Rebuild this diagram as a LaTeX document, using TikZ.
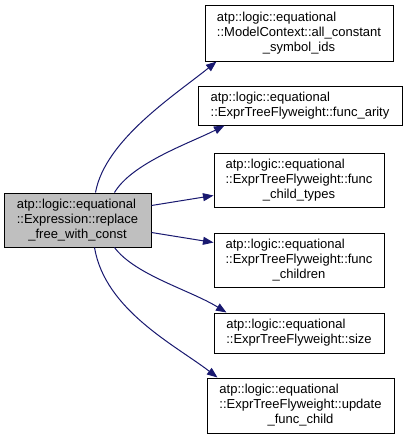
\documentclass[tikz,border=0pt]{standalone}
\usepackage{fontspec}
\setmainfont{Liberation Sans}
\usetikzlibrary{arrows.meta}
\definecolor{edgeblue}{HTML}{191970}
\definecolor{maingray}{HTML}{BFBFBF}
\newcommand\dxLabelThree[3]{\begin{tabular}{@{}l@{}}#1\\#2\\\multicolumn{1}{@{}c@{}}{#3}\end{tabular}}
\newcommand\dxLabelTwo[2]{\begin{tabular}{@{}l@{}}#1\\#2\end{tabular}}
\begin{document}
\begin{tikzpicture}[x=1pt,y=-1pt,
  box/.style={draw=black, line width=1pt, fill=white, inner sep=0pt, font=\fontsize{13}{15}\selectfont},
  edge/.style={draw=edgeblue, line width=1pt, -{Triangle[length=10.5pt,width=8pt]}}]
\useasboundingbox (0,0) rectangle (405,440);
\fill[white] (0,0) rectangle (405,440);

\node[box, fill=maingray, minimum width=147pt, minimum height=54pt] (main) at (77.5,220)
  {\dxLabelThree{atp::logic::equational}{::Expression::replace}{\_free\_with\_const}};

\node[box, minimum width=188pt, minimum height=56pt] (n1) at (299,33)
  {\dxLabelThree{atp::logic::equational}{::ModelContext::all\_constant}{\_symbol\_ids}};
\node[box, minimum width=204pt, minimum height=39pt] (n2) at (300,105.5)
  {\dxLabelTwo{atp::logic::equational}{::ExprTreeFlyweight::func\_arity}};
\node[box, minimum width=170pt, minimum height=54pt] (n3) at (299,180)
  {\dxLabelThree{atp::logic::equational}{::ExprTreeFlyweight::func}{\_child\_types}};
\node[box, minimum width=170pt, minimum height=54pt] (n4) at (299,260)
  {\dxLabelThree{atp::logic::equational}{::ExprTreeFlyweight::func}{\_children}};
\node[box, minimum width=170pt, minimum height=40pt] (n5) at (299,333)
  {\dxLabelTwo{atp::logic::equational}{::ExprTreeFlyweight::size}};
\node[box, minimum width=187pt, minimum height=55pt] (n6) at (300.5,405.5)
  {\dxLabelThree{atp::logic::equational}{::ExprTreeFlyweight::update}{\_func\_child}};

\draw[edge] ([xshift=92pt]main.north west) .. controls (105,140) and (175,95) .. ([xshift=12pt]n1.south west);
\draw[edge] ([xshift=111pt]main.north west) .. controls (132,163) and (190,143) .. ([xshift=27pt]n2.south west);
\draw[edge] ([yshift=-13pt]main.north east) -- ([yshift=12pt]n3.south west);
\draw[edge] ([yshift=15pt]main.south east) -- ([yshift=-10pt]n4.north west);
\draw[edge] ([xshift=111pt]main.south west) .. controls (135,275) and (190,290) .. ([xshift=13pt]n5.north west);
\draw[edge] ([xshift=91pt]main.south west) .. controls (105,310) and (175,345) .. ([xshift=11pt]n6.north west);
\end{tikzpicture}
\end{document}
